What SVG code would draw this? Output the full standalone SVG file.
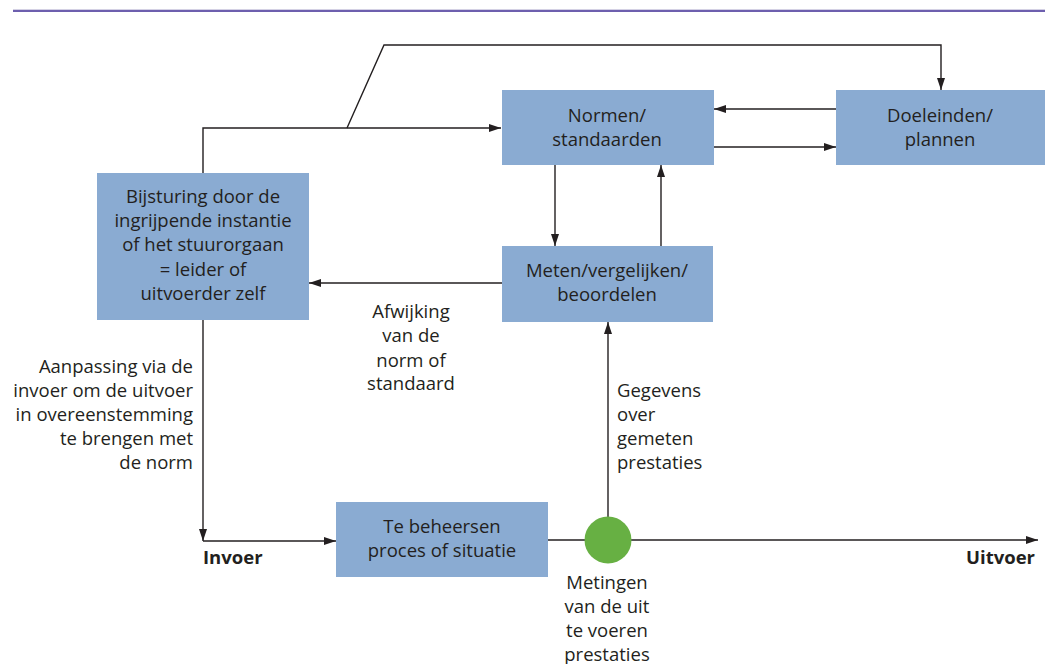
<svg xmlns="http://www.w3.org/2000/svg" width="1045" height="664" viewBox="0 0 1045 664">
<style>
.box{fill:#8aabd2}
.t{font-family:"Open Sans","Noto Sans","DejaVu Sans",sans-serif;font-size:18.5px;fill:#231f20}
.c{text-anchor:middle}
.r{text-anchor:end}
.b{font-weight:bold}
.ln{fill:none;stroke:#231f20;stroke-width:1.4}
</style>
<defs>
<marker id="ah" viewBox="0 0 12 8" refX="12" refY="4" markerWidth="12" markerHeight="8" markerUnits="userSpaceOnUse" orient="auto">
<path d="M0,0 L12,4 L0,8 Z" fill="#231f20"/>
</marker>
</defs>
<rect width="1045" height="664" fill="#ffffff"/>
<line x1="13" y1="9.5" x2="1045" y2="9.5" stroke="#d4d1e4" stroke-width="1"/>
<line x1="13" y1="11" x2="1045" y2="11" stroke="#6d5fae" stroke-width="2.2"/>

<g id="connectors">
<path class="ln" d="M203,173 V128 H501" marker-end="url(#ah)"/>
<path class="ln" d="M347,128 L384,45 H941 V90" marker-end="url(#ah)"/>
<path class="ln" d="M836,109 H714" marker-end="url(#ah)"/>
<path class="ln" d="M714,147 H836" marker-end="url(#ah)"/>
<path class="ln" d="M555,165 V246" marker-end="url(#ah)"/>
<path class="ln" d="M661,246 V165" marker-end="url(#ah)"/>
<path class="ln" d="M502,283 H309" marker-end="url(#ah)"/>
<path class="ln" d="M203,320 V541" marker-end="url(#ah)"/>
<path class="ln" d="M203,541 H336" marker-end="url(#ah)"/>
<path class="ln" d="M548,540 H1038" marker-end="url(#ah)"/>
<path class="ln" d="M608,540 V322" marker-end="url(#ah)"/>
</g>

<g id="normen">
<rect class="box" x="502" y="90" width="212" height="75"/>
<text class="t c" x="607" y="122">Normen/</text>
<text class="t c" x="607" y="146">standaarden</text>
</g>

<g id="doeleinden">
<rect class="box" x="836" y="90" width="209" height="75"/>
<text class="t c" x="940" y="122">Doeleinden/</text>
<text class="t c" x="940" y="146">plannen</text>
</g>

<g id="bijsturing">
<rect class="box" x="97" y="173" width="212" height="147"/>
<text class="t c" x="203" y="203">Bijsturing door de</text>
<text class="t c" x="203" y="227">ingrijpende instantie</text>
<text class="t c" x="203" y="251">of het stuurorgaan</text>
<text class="t c" x="203" y="276">= leider of</text>
<text class="t c" x="203" y="300">uitvoerder zelf</text>
</g>

<g id="meten">
<rect class="box" x="502" y="246" width="211" height="76"/>
<text class="t c" x="607" y="277">Meten/vergelijken/</text>
<text class="t c" x="607" y="301">beoordelen</text>
</g>

<g id="proces">
<rect class="box" x="336" y="502" width="212" height="75"/>
<text class="t c" x="442" y="533">Te beheersen</text>
<text class="t c" x="442" y="557">proces of situatie</text>
</g>

<g id="meetpunt">
<circle cx="608" cy="540" r="23.5" fill="#67b043"/>
<text class="t c" x="607" y="589">Metingen</text>
<text class="t c" x="607" y="613">van de uit</text>
<text class="t c" x="607" y="637">te voeren</text>
<text class="t c" x="607" y="661">prestaties</text>
</g>

<g id="labels">
<text class="t c" x="411" y="318">Afwijking</text>
<text class="t c" x="411" y="342">van de</text>
<text class="t c" x="411" y="367">norm of</text>
<text class="t c" x="411" y="390">standaard</text>

<text class="t r" x="193" y="373">Aanpassing via de</text>
<text class="t r" x="193" y="397">invoer om de uitvoer</text>
<text class="t r" x="193" y="421">in overeenstemming</text>
<text class="t r" x="193" y="445">te brengen met</text>
<text class="t r" x="193" y="469">de norm</text>

<text class="t" x="617" y="397">Gegevens</text>
<text class="t" x="617" y="421">over</text>
<text class="t" x="617" y="445">gemeten</text>
<text class="t" x="617" y="469">prestaties</text>

<text class="t b" x="203" y="564">Invoer</text>
<text class="t b r" x="1035" y="564">Uitvoer</text>
</g>
</svg>
